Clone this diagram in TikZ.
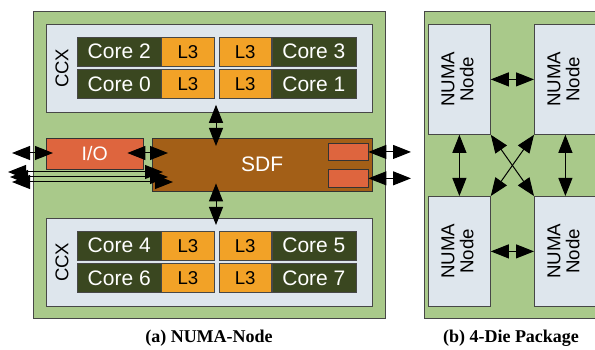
\documentclass[tikz,border=0pt]{standalone}
\usepackage{fontspec}
\setmainfont{Liberation Serif}
\setsansfont{Liberation Sans}
\usepackage{tikz}
\usetikzlibrary{arrows.meta, positioning, calc}

\definecolor{diegreen}{HTML}{A9C98A}
\definecolor{ccxblue}{HTML}{DEE6ED}
\definecolor{coregreen}{HTML}{3A4720}
\definecolor{cacheorange}{HTML}{F2A227}
\definecolor{sdfbrown}{HTML}{A35F17}
\definecolor{iored}{HTML}{DE653E}
\definecolor{edgegray}{HTML}{474747}

\tikzset{
	every node/.style={
		align=center,
		font=\sffamily,
	},
	link/.style={
		line width=1pt,
		>={Triangle[length=18pt,width=14pt]},
		<->,
	},
}
\tikzstyle{die} = [draw=edgegray, line width=0.8pt, fill=diegreen, inner sep=0, anchor=north west]
\tikzstyle{ccx} = [draw=edgegray, line width=0.8pt, fill=ccxblue, inner sep=0, anchor=north west, minimum width=326pt, minimum height=88pt]
\tikzstyle{core} = [draw=edgegray, fill=coregreen, text=white, inner sep=0, minimum width=84pt, minimum height=29pt, font=\sffamily\fontsize{21}{24}\selectfont]
\tikzstyle{cache} = [draw=edgegray, fill=cacheorange, inner sep=0, minimum width=52.5pt, minimum height=29pt, font=\sffamily\fontsize{18.6}{22}\selectfont]
\tikzstyle{numa} = [draw=edgegray, line width=0.8pt, fill=ccxblue, inner sep=0, anchor=north west, minimum width=62pt, minimum height=110pt, font=\sffamily\fontsize{18.7}{22}\selectfont]
\tikzstyle{port} = [draw=black!80, fill=iored, inner sep=0, minimum width=40pt, minimum height=17.5pt]
\tikzstyle{caption} = [font=\rmfamily\bfseries\fontsize{18}{21}\selectfont]

\begin{document}
\begin{tikzpicture}[x=1pt, y=-1pt]
    \useasboundingbox (0,0) rectangle (595,350);
    \clip (0,0) rectangle (595,350);

    % (a) one die
    \node[die, minimum width=352pt, minimum height=307pt] (diea) at (33,11) {};
    \node[ccx] (ccxtop) at (46,24) {};
    \node[ccx] (ccxbot) at (46,218) {};
    \node[rotate=90, font=\sffamily\fontsize{18.5}{22}\selectfont] (ccxtoplbl) at ($(ccxtop.west)+(16,0)$) {CCX};
    \node[rotate=90, font=\sffamily\fontsize{18.5}{22}\selectfont] (ccxbotlbl) at ($(ccxbot.west)+(16,0)$) {CCX};

    \node[core, anchor=north west] (core2) at (77,37) {Core 2};
    \node[cache, right=0pt of core2] (l3a) {L3};
    \node[cache, right=4.5pt of l3a] (l3b) {L3};
    \node[core, right=0pt of l3b] (core3) {Core 3};
    \node[core, below=3pt of core2] (core0) {Core 0};
    \node[cache, right=0pt of core0] (l3c) {L3};
    \node[cache, right=4.5pt of l3c] (l3d) {L3};
    \node[core, right=0pt of l3d] (core1) {Core 1};

    \node[core, anchor=north west] (core4) at (77,231) {Core 4};
    \node[cache, right=0pt of core4] (l3e) {L3};
    \node[cache, right=4.5pt of l3e] (l3f) {L3};
    \node[core, right=0pt of l3f] (core5) {Core 5};
    \node[core, below=3pt of core4] (core6) {Core 6};
    \node[cache, right=0pt of core6] (l3g) {L3};
    \node[cache, right=4.5pt of l3g] (l3h) {L3};
    \node[core, right=0pt of l3h] (core7) {Core 7};

    \node[draw=black!80, fill=sdfbrown, text=white, inner sep=0, anchor=north west, minimum width=220pt, minimum height=53pt, font=\sffamily\fontsize{21}{24}\selectfont] (sdf) at (152,138) {SDF};
    \node[draw=black!80, fill=iored, text=white, inner sep=0, anchor=north west, minimum width=97pt, minimum height=31pt, font=\sffamily\fontsize{19.5}{22}\selectfont] (io) at (46,138) {I/O};
    \node[port, anchor=north east] (port1) at ($(sdf.north east)+(-4,5)$) {};
    \node[port, below=8.5pt of port1] (port2) {};

    \coordinate (bus) at (216,0);
    \coordinate (ioout) at (12,153);
    \coordinate (edger) at (411,0);

    \draw[link, shorten <=-8pt, shorten >=-8pt] (ccxtop.south -| bus) -- (sdf.north -| bus);
    \draw[link, shorten <=-8pt, shorten >=-7pt] (sdf.south -| bus) -- (ccxbot.north -| bus);
    \draw[link, shorten >=-7pt] (ioout) -- (io.west |- ioout);
    \draw[link, shorten <=-16pt, shorten >=-16pt] (io.east |- ioout) -- (sdf.west |- ioout);
    \foreach \y/\x/\ext [count=\i] in {172/8/11, 177/10/16, 182/12/21} {
        \coordinate (lane\i) at (\x,\y);
        \draw[link, shorten >=-\ext pt] (lane\i) -- (sdf.west |- lane\i);
    }
    \draw[link] (port1.east) -- (port1.east -| edger);
    \draw[link] (port2.east) -- (port2.east -| edger);

    % (b) four dies in a package
    \node[die, minimum width=200pt, minimum height=307pt] (dieb) at (424,11) {};
    \node[numa] (tl) at (428,24) {\rotatebox{90}{\begin{tabular}{@{}c@{}}NUMA\\[-3pt]Node\end{tabular}}};
    \node[numa] (tr) at (534,24) {\rotatebox{90}{\begin{tabular}{@{}c@{}}NUMA\\[-3pt]Node\end{tabular}}};
    \node[numa] (bl) at (428,196) {\rotatebox{90}{\begin{tabular}{@{}c@{}}NUMA\\[-3pt]Node\end{tabular}}};
    \node[numa] (br) at (534,196) {\rotatebox{90}{\begin{tabular}{@{}c@{}}NUMA\\[-3pt]Node\end{tabular}}};

    \draw[link] (tl.east) -- (tr.west);
    \draw[link] (bl.east) -- (br.west);
    \draw[link] (tl.south) -- (bl.north);
    \draw[link] (tr.south) -- (br.north);
    \draw[link] (tl.south east) -- (br.north west);
    \draw[link] (tr.south west) -- (bl.north east);

    \node[caption] (capa) at (209,338) {(a) NUMA-Node};
    \node[caption] (capb) at (511,338) {(b) 4-Die Package};
\end{tikzpicture}
\end{document}
